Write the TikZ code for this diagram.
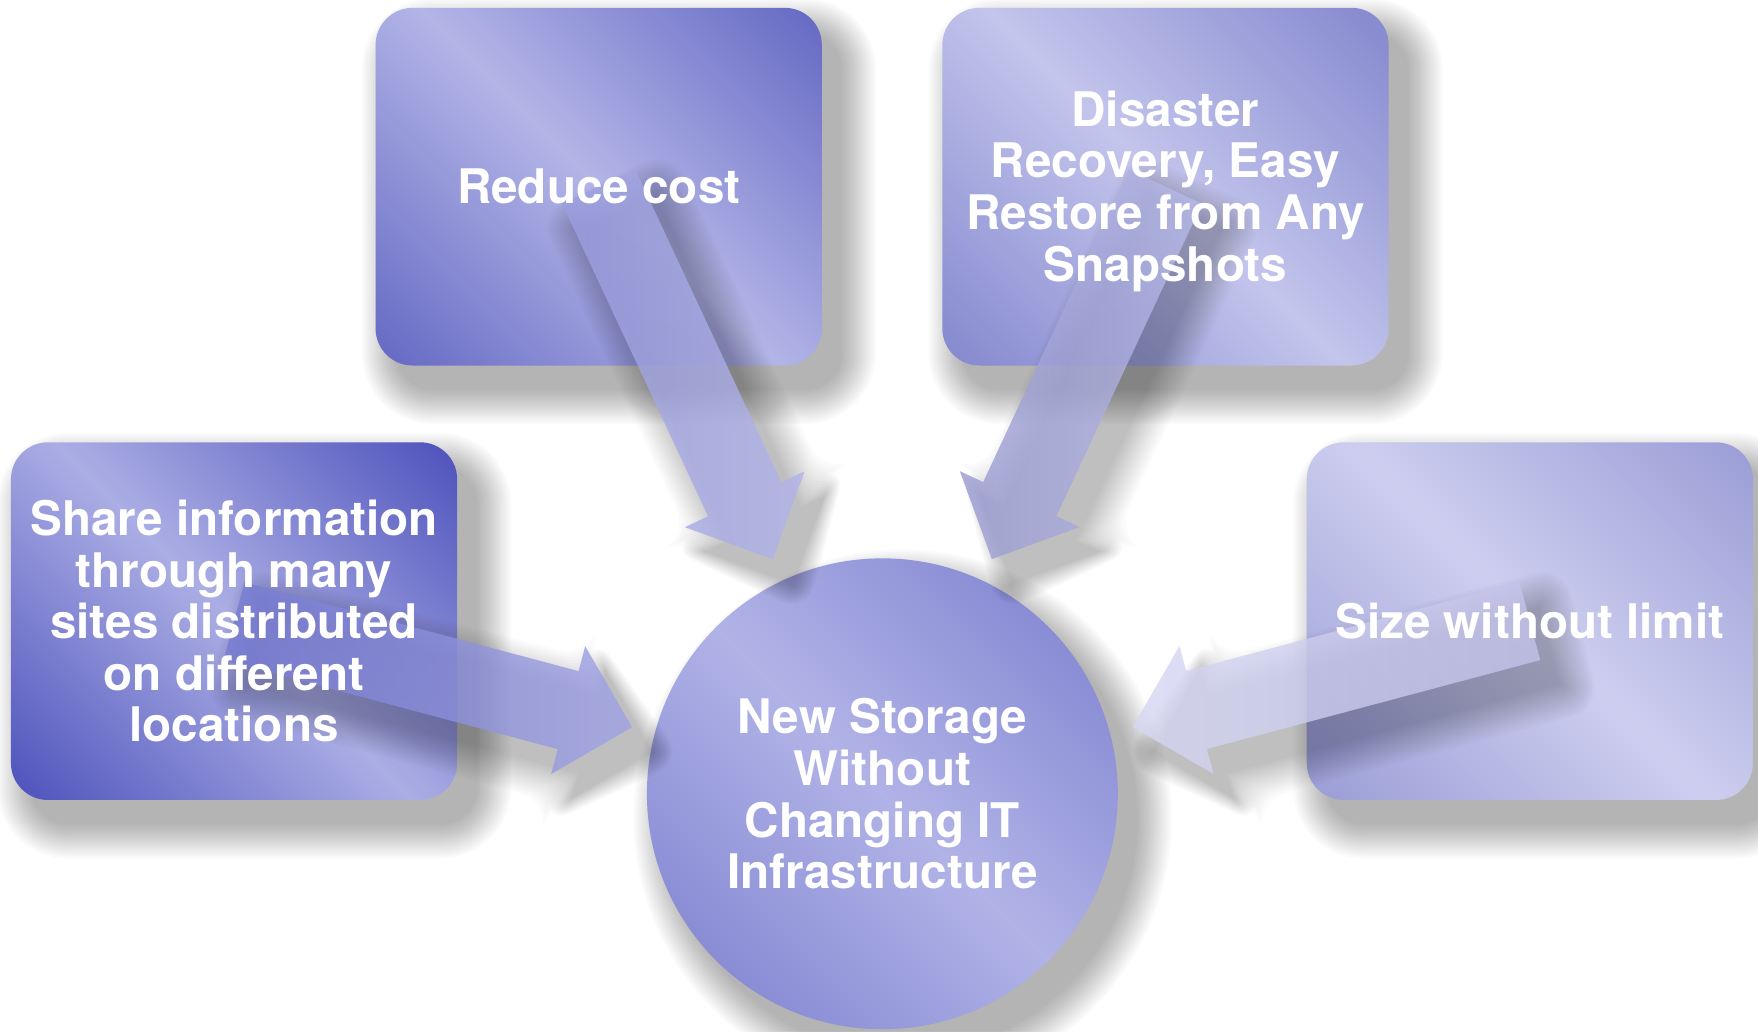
\documentclass[tikz,border=0pt]{standalone}
\usepackage{fontspec}
\newfontfamily\hv{TeX Gyre Heros}
\usetikzlibrary{calc}
\definecolor{rL}{HTML}{B3B5E7}\definecolor{rD}{HTML}{676BC4}
\definecolor{dL}{HTML}{C3C5EC}\definecolor{dD}{HTML}{868ACF}
\definecolor{sL}{HTML}{ABAEE4}\definecolor{sD}{HTML}{5155BD}
\definecolor{zL}{HTML}{CDCEEF}\definecolor{zD}{HTML}{9C9FD7}
\definecolor{cL}{HTML}{B1B3E7}\definecolor{cD}{HTML}{7B7FCE}
\pgfdeclarehorizontalshading{shReduce}{100bp}{color(0bp)=(rD); color(16bp)=(rD); color(50bp)=(rL); color(84bp)=(rD); color(100bp)=(rD)}
\pgfdeclarehorizontalshading{shDisaster}{100bp}{color(0bp)=(dD); color(16bp)=(dD); color(50bp)=(dL); color(84bp)=(dD); color(100bp)=(dD)}
\pgfdeclarehorizontalshading{shShare}{100bp}{color(0bp)=(sD); color(16bp)=(sD); color(50bp)=(sL); color(84bp)=(sD); color(100bp)=(sD)}
\pgfdeclarehorizontalshading{shSize}{100bp}{color(0bp)=(zD); color(16bp)=(zD); color(50bp)=(zL); color(84bp)=(zD); color(100bp)=(zD)}
\pgfdeclarehorizontalshading{shHub}{100bp}{color(0bp)=(cD); color(16bp)=(cD); color(50bp)=(cL); color(84bp)=(cD); color(100bp)=(cD)}
\pgfdeclarelayer{boxshd}\pgfdeclarelayer{shapes}\pgfdeclarelayer{arrshd}\pgfdeclarelayer{arrows}
\pgfsetlayers{boxshd,shapes,arrshd,arrows,main}
% block arrow geometry, grown outwards by #3 (pt)
\newcommand\arrowcoords[3]{%
  \coordinate (#1-T) at ($(#1.center)!{-(#3)*1pt}!(#2.center)$);
  \coordinate (#1-X) at ($(#2.center)!{(231-1.0*(#3))*1pt}!(#1.center)$);
  \coordinate (#1-N) at ($(#2.center)!{(290+0.6*(#3))*1pt}!(#1.center)$);
  \coordinate (#1-A1) at ($(#1-T)!{(36+(#3))*1pt}!90:(#2.center)$);
  \coordinate (#1-A2) at ($(#1-N)!{(36+(#3))*1pt}!90:(#2.center)$);
  \coordinate (#1-A3) at ($(#1-N)!{(59+1.0*(#3))*1pt}!90:(#2.center)$);
  \coordinate (#1-B3) at ($(#1-N)!{(59+1.0*(#3))*1pt}!-90:(#2.center)$);
  \coordinate (#1-B2) at ($(#1-N)!{(36+(#3))*1pt}!-90:(#2.center)$);
  \coordinate (#1-B1) at ($(#1-T)!{(36+(#3))*1pt}!-90:(#2.center)$);}
\newcommand\arrowoutline[1]{(#1-A1) -- (#1-A2) -- (#1-A3) -- (#1-X) -- (#1-B3) -- (#1-B2) -- (#1-B1) -- cycle}
\newcommand\blockarrow[3]{%
  \begin{pgfonlayer}{arrshd}
  \begin{scope}[transform canvas={shift={(18pt,-22pt)}}]
  \foreach \e in {0,2,...,30}{\arrowcoords{#1}{#2}{\e}\fill[ashd, rounded corners={(0.9*\e+0.01)*1pt}] \arrowoutline{#1};}
  \end{scope}
  \end{pgfonlayer}
  \begin{pgfonlayer}{arrows}
  \arrowcoords{#1}{#2}{0}
  \path[#3] \arrowoutline{#1};
  \end{pgfonlayer}}
\newcommand\boxshadow[1]{%
  \begin{pgfonlayer}{boxshd}
  \begin{scope}[transform canvas={shift={(18pt,-22pt)}}]
  \foreach \e in {0,2,...,30}{\fill[shd, rounded corners={(33+\e)*1pt}] ($(#1.north west)+(-\e,-\e)$) rectangle ($(#1.south east)+(\e,\e)$);}
  \end{scope}
  \end{pgfonlayer}}
\begin{document}
\begin{tikzpicture}[x=1pt,y=-1pt,
  shd/.style={black, fill opacity=0.02},
  ashd/.style={black, fill opacity=0.017},
  card/.style={rounded corners=33pt, minimum width=398pt, minimum height=319pt, inner sep=0pt, shading angle=45},
  hubshape/.style={circle, minimum size=420pt, inner sep=0pt, shading=shHub, shading angle=45},
  label/.style={text=white, font=\hv\bfseries\fontsize{42.5}{46}\selectfont, align=center, inner sep=0pt},
  arrowbody/.style={shading=axis, fill opacity=0.8}]
\useasboundingbox (0,0) rectangle (1568,919.6);
\begin{pgfonlayer}{boxshd}
\fill[white] (0,0) rectangle (1568,919.6);
\end{pgfonlayer}
% boxes and hub
\begin{pgfonlayer}{shapes}
\node[card, shading=shReduce] (reduce) at (534,166.5) {};
\node[card, shading=shDisaster] (disaster) at (1039.5,166.5) {};
\node[card, shading=shShare] (share) at (208.75,554) {};
\node[card, shading=shSize] (size) at (1364.5,554) {};
\node[hubshape] (hub) at (787,708) {};
\end{pgfonlayer}
\boxshadow{reduce}\boxshadow{disaster}\boxshadow{share}\boxshadow{size}
\begin{pgfonlayer}{boxshd}
\begin{scope}[transform canvas={shift={(18pt,-22pt)}}]
\foreach \e in {0,2,...,30}{\fill[shd] (hub.center) circle[radius={(210+\e)*1pt}];}
\end{scope}
\end{pgfonlayer}
% arrows
\blockarrow{reduce}{hub}{arrowbody, left color={rgb,255:red,155;green,158;blue,224}, right color={rgb,255:red,178;green,180;blue,234}}
\blockarrow{disaster}{hub}{arrowbody, left color={rgb,255:red,152;green,154;blue,208}, right color={rgb,255:red,184;green,186;blue,234}}
\blockarrow{share}{hub}{arrowbody, left color={rgb,255:red,118;green,122;blue,212}, right color={rgb,255:red,160;green,163;blue,228}}
\blockarrow{size}{hub}{arrowbody, left color={rgb,255:red,214;green,215;blue,243}, right color={rgb,255:red,194;green,195;blue,234}}
% labels
\node[label] (reduce-t) at (reduce.center) {Reduce cost};
\node[label] (disaster-t) at ($(disaster.center)+(0,4)$) {Disaster\\Recovery, Easy\\Restore from Any\\Snapshots};
\node[label] (share-t) at (share.center) {Share information\\through many\\sites distributed\\on different\\locations};
\node[label] (size-t) at (size.center) {Size without limit};
\node[label] (hub-t) at (hub.center) {New Storage\\Without\\Changing IT\\Infrastructure};
\end{tikzpicture}
\end{document}
